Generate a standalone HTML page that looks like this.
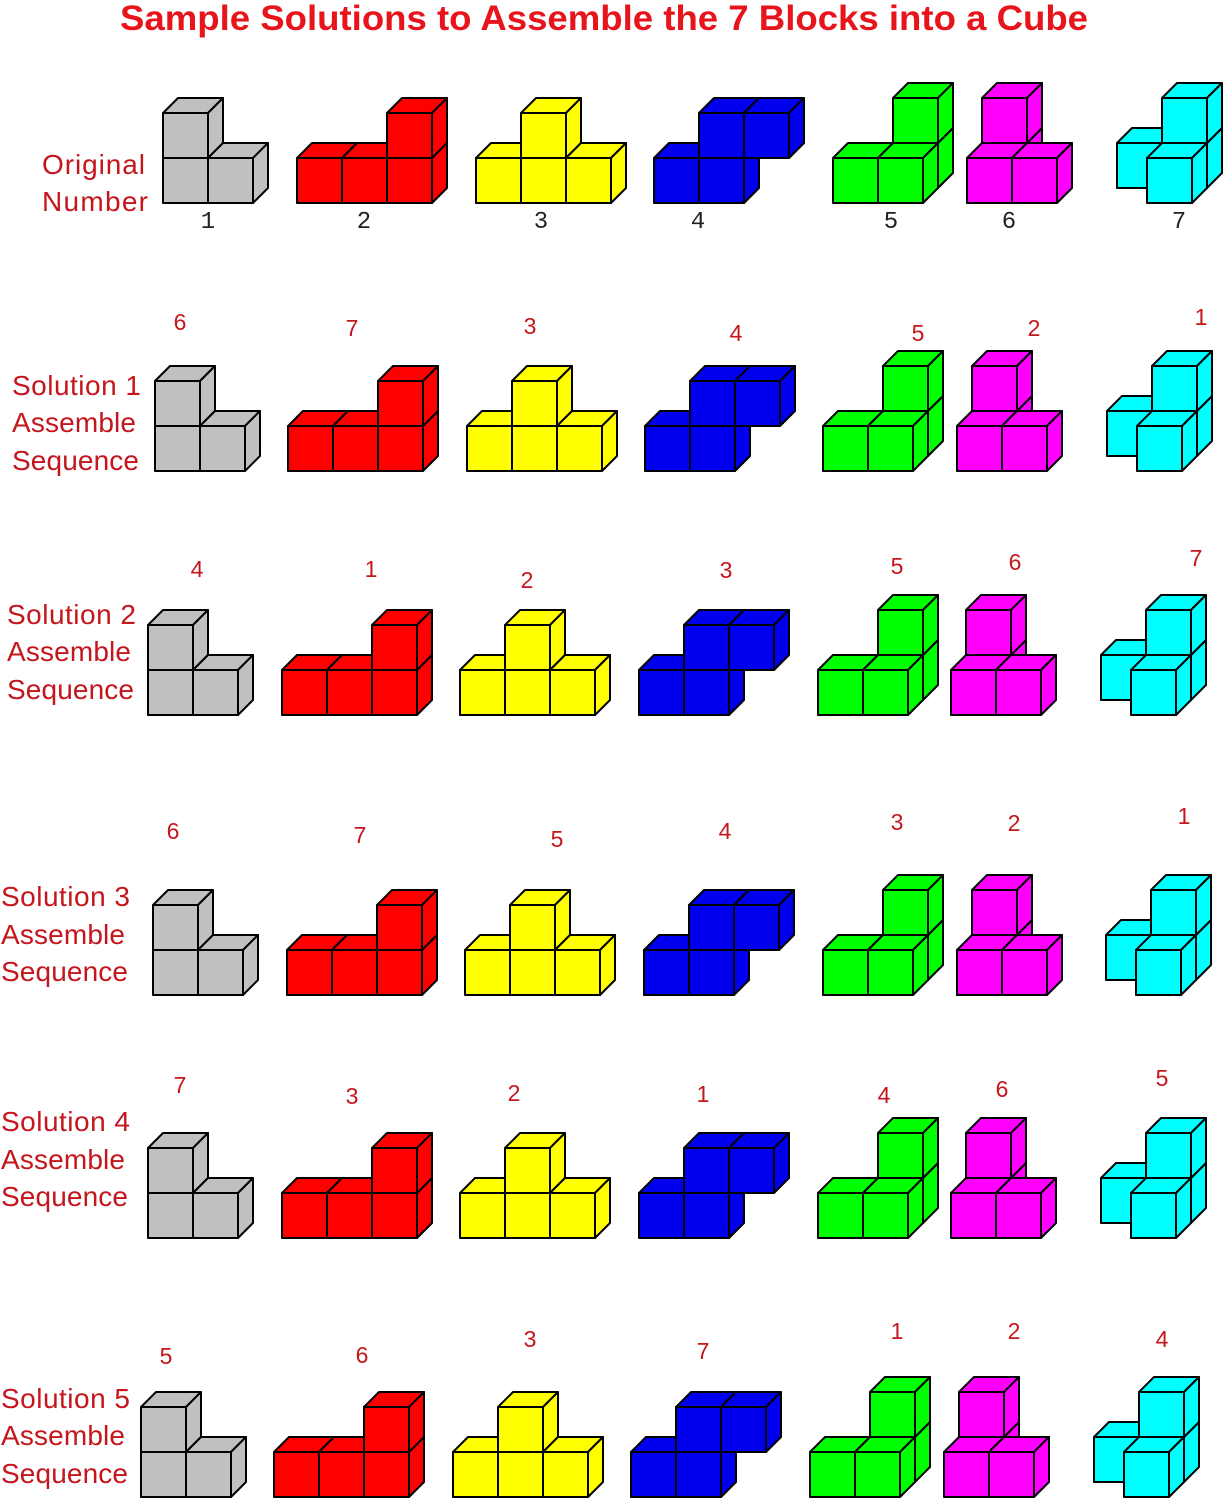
<!DOCTYPE html>
<html><head><meta charset="utf-8"><style>
html,body{margin:0;padding:0;background:#fff;width:1225px;height:1500px;overflow:hidden}
svg{display:block}
</style></head><body>
<svg id="s" width="1225" height="1500" xmlns="http://www.w3.org/2000/svg">
<text x="120" y="30" textLength="968" lengthAdjust="spacingAndGlyphs" font-family="Liberation Sans, sans-serif" font-weight="bold" font-size="35" fill="#e8141b">Sample Solutions to Assemble the 7 Blocks into a Cube</text>
<g font-family="Liberation Sans, sans-serif" font-size="28" fill="#c4161c" lengthAdjust="spacingAndGlyphs">
<text x="42" y="174" textLength="103">Original</text><text x="42" y="211" textLength="106">Number</text>
<text x="12" y="395" textLength="129">Solution 1</text><text x="12" y="432" textLength="124">Assemble</text><text x="12" y="470" textLength="127">Sequence</text>
<text x="7" y="624" textLength="129">Solution 2</text><text x="7" y="661" textLength="124">Assemble</text><text x="7" y="699" textLength="127">Sequence</text>
<text x="1" y="906" textLength="129">Solution 3</text><text x="1" y="944" textLength="124">Assemble</text><text x="1" y="981" textLength="127">Sequence</text>
<text x="1" y="1131" textLength="129">Solution 4</text><text x="1" y="1169" textLength="124">Assemble</text><text x="1" y="1206" textLength="127">Sequence</text>
<text x="1" y="1408" textLength="129">Solution 5</text><text x="1" y="1445" textLength="124">Assemble</text><text x="1" y="1483" textLength="127">Sequence</text>
</g>
<g id="blocks" stroke="#000" stroke-width="2" stroke-linejoin="round"></g>
<g id="nums" font-family="Liberation Sans, sans-serif" font-size="23" fill="#c4161c" text-anchor="middle"></g>
<g font-family="Liberation Mono, monospace" font-size="24" fill="#222" text-anchor="middle">
<text x="208" y="228">1</text><text x="364" y="228">2</text><text x="541" y="228">3</text><text x="698" y="228">4</text><text x="891" y="228">5</text><text x="1009" y="228">6</text><text x="1179" y="228">7</text>
</g>
</svg>
<script>
var S=45,D=15;
var shapes=[
 {c:"#c0c0c0",cubes:[[0,0,0],[1,0,0],[0,1,0]]},
 {c:"#ff0000",cubes:[[0,0,0],[1,0,0],[2,0,0],[2,1,0]]},
 {c:"#ffff00",cubes:[[0,0,0],[1,0,0],[2,0,0],[1,1,0]]},
 {c:"#0000ee",cubes:[[0,0,0],[1,0,0],[1,1,0],[2,1,0]]},
 {c:"#00ff00",cubes:[[0,0,0],[1,0,0],[1,0,1],[1,1,1]]},
 {c:"#ff00ff",cubes:[[0,0,0],[1,0,0],[0,0,1],[0,1,1]]},
 {c:"#00ffff",cubes:[[1,0,0],[0,0,1],[1,0,1],[1,1,1]]}
];
var rows=[
 {b:203,x:[163,297,476,654,833,967,1102]},
 {b:471,x:[155,288,467,645,823,957,1092]},
 {b:715,x:[148,282,460,639,818,951,1086]},
 {b:995,x:[153,287,465,644,823,957,1091]},
 {b:1238,x:[148,282,460,639,818,951,1086]},
 {b:1497,x:[141,274,453,631,810,944,1079]}
];
var h="";
function P(pts,c){return '<polygon points="'+pts.map(function(p){return p[0]+","+p[1]}).join(" ")+'" fill="'+c+'"/>';}
rows.forEach(function(r){
 shapes.forEach(function(sh,i){
  var cs=sh.cubes.slice().sort(function(a,b){return b[2]-a[2]||a[0]-b[0]||a[1]-b[1];});
  cs.forEach(function(q){
   var x=r.x[i]+q[0]*S+q[2]*D, yb=r.b-q[1]*S-q[2]*D, yt=yb-S;
   h+=P([[x,yt],[x+S,yt],[x+S,yb],[x,yb]],sh.c);
   h+=P([[x,yt],[x+D,yt-D],[x+S+D,yt-D],[x+S,yt]],sh.c);
   h+=P([[x+S,yt],[x+S+D,yt-D],[x+S+D,yb-D],[x+S,yb]],sh.c);
  });
 });
});
document.getElementById("blocks").innerHTML=h;
var nums=[
 [[6,180,322],[7,352,328],[3,530,326],[4,736,333],[5,918,333],[2,1034,328],[1,1201,317]],
 [[4,197,569],[1,371,569],[2,527,580],[3,726,570],[5,897,566],[6,1015,562],[7,1196,558]],
 [[6,173,831],[7,360,835],[5,557,839],[4,725,831],[3,897,822],[2,1014,823],[1,1184,816]],
 [[7,180,1085],[3,352,1096],[2,514,1093],[1,703,1094],[4,884,1095],[6,1002,1089],[5,1162,1078]],
 [[5,166,1356],[6,362,1355],[3,530,1339],[7,703,1351],[1,897,1331],[2,1014,1331],[4,1162,1339]]
];
var t="";
nums.forEach(function(r){r.forEach(function(n){t+='<text x="'+n[1]+'" y="'+(n[2]+8)+'">'+n[0]+'</text>';});});
document.getElementById("nums").innerHTML=t;
</script>
</body></html>
